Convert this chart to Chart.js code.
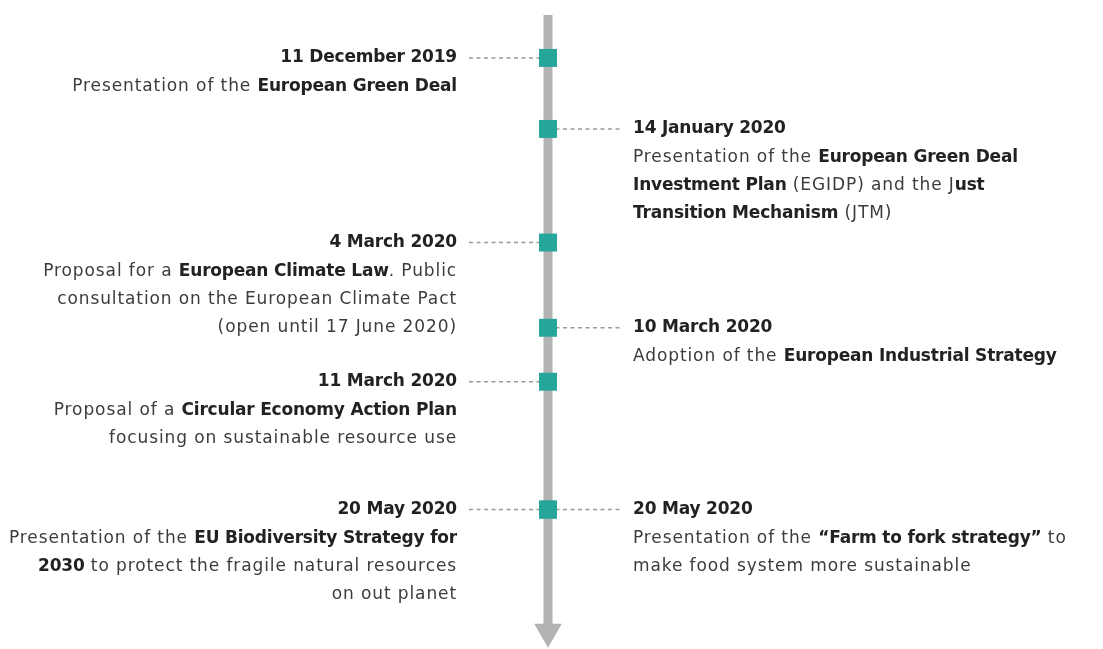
<!DOCTYPE html>
<html>
<head>
<meta charset="utf-8">
<script src="https://cdn.jsdelivr.net/npm/chart.js@4/dist/chart.umd.min.js"></script>
<style>
  html, body { margin: 0; padding: 0; background: #fff; }
  #wrap { width: 1103px; height: 649px; }
</style>
</head>
<body>
<div id="wrap"><canvas id="timeline"></canvas></div>
<script>
// European Green Deal – timeline of the first milestones

const dates = ['11 December 2019', '14 January 2020', '4 March 2020', '10 March 2020',
  '11 March 2020', '20 May 2020', '20 May 2020'];
const sides = [-1, 1, -1, 1, -1, -1, 1];          // -1 = text left of the axis, 1 = right
const rows = [0, 2.5, 6.5, 9.5, 11.4, 15.9, 15.9]; // vertical slot on the axis (text lines)
const descriptions = [
  ['Presentation of the **European Green Deal**'],
  ['Presentation of the **European Green Deal**',
   '**Investment Plan** (EGIDP) and the J**ust**',
   '**Transition Mechanism** (JTM)'],
  ['Proposal for a **European Climate Law**. Public',
   'consultation on the European Climate Pact',
   '(open until 17 June 2020)'],
  ['Adoption of the **European Industrial Strategy**'],
  ['Proposal of a **Circular Economy Action Plan**',
   'focusing on sustainable resource use'],
  ['Presentation of the **EU Biodiversity Strategy for**',
   '**2030** to protect the fragile natural resources',
   'on out planet'],
  ['Presentation of the **\u201cFarm to fork strategy\u201d** to',
   'make food system more sustainable']
];
const axisStart = -1.51;
const axisEnd = 19.96;
const arrowPos = 20.2;

const FONT = '"DejaVu Sans", sans-serif';
const TEAL = '#26a69a';
const AXIS_GREY = '#b3b3b3';
const DASH_GREY = '#9a9a9a';

// connector lengths (x units) and text offsets (px) per side
const reach = { '-1': -0.148, '1': 0.135 };
const textGap = { '-1': 91, '1': 85 };

function drawRich(ctx, line, x, y, align) {
  const parts = line.split('**').map((t, i) => ({ t, bold: i % 2 === 1 }));
  const setFont = p => {
    ctx.font = (p.bold ? 'bold ' : '') + '17px ' + FONT;
    ctx.letterSpacing = p.bold ? '-0.2px' : '0.9px';
  };
  let w = 0;
  parts.forEach(p => { setFont(p); w += ctx.measureText(p.t).width; });
  let cx = align === 'right' ? x - w : x;
  ctx.textAlign = 'left';
  parts.forEach(p => {
    setFont(p);
    ctx.fillStyle = p.bold ? '#222' : '#3c3c3c';
    ctx.fillText(p.t, cx, y);
    cx += ctx.measureText(p.t).width;
  });
}

const labelPlugin = {
  id: 'timelineLabels',
  afterDatasetsDraw(chart) {
    const { ctx, scales: { x, y } } = chart;
    const x0 = x.getPixelForValue(0);
    ctx.save();
    ctx.textBaseline = 'middle';
    dates.forEach((d, i) => {
      const side = sides[i];
      const py = y.getPixelForValue(rows[i]);
      const tx = x0 + side * textGap[side];
      const align = side < 0 ? 'right' : 'left';
      drawRich(ctx, '**' + d + '**', tx, py, align);
      descriptions[i].forEach((line, j) => {
        drawRich(ctx, line, tx, py + 29 + j * 28, align);
      });
    });
    ctx.restore();
  }
};

const connectors = dates.map((d, i) => ({
  type: 'line',
  data: [{ x: 0, y: rows[i] }, { x: reach[sides[i]], y: rows[i] }],
  borderColor: DASH_GREY,
  borderWidth: 1.6,
  borderDash: [4, 3.5],
  pointRadius: 0,
  order: 3
}));

new Chart(document.getElementById('timeline'), {
  type: 'scatter',
  data: {
    datasets: [
      {
        type: 'line',
        data: [{ x: 0, y: axisStart }, { x: 0, y: axisEnd }],
        borderColor: AXIS_GREY,
        borderWidth: 9,
        borderCapStyle: 'butt',
        pointRadius: 0,
        order: 4
      },
      {
        data: [{ x: 0, y: arrowPos }],
        pointStyle: 'triangle',
        rotation: 180,
        pointRadius: 16,
        backgroundColor: AXIS_GREY,
        borderWidth: 0,
        order: 4
      },
      ...connectors,
      {
        data: rows.map(r => ({ x: 0, y: r })),
        pointStyle: 'rect',
        pointRadius: 12.7,
        backgroundColor: TEAL,
        borderColor: TEAL,
        borderWidth: 0,
        order: 1
      }
    ]
  },
  plugins: [labelPlugin],
  options: {
    responsive: true,
    maintainAspectRatio: false,
    animation: false,
    layout: { autoPadding: false, padding: { left: 0, right: 7, top: 0, bottom: 0 } },
    plugins: { legend: { display: false }, tooltip: { enabled: false } },
    scales: {
      x: { type: 'linear', min: -1, max: 1, display: false },
      y: { type: 'linear', min: -2.04, max: 20.81, reverse: true, display: false }
    }
  }
});
</script>
</body>
</html>
